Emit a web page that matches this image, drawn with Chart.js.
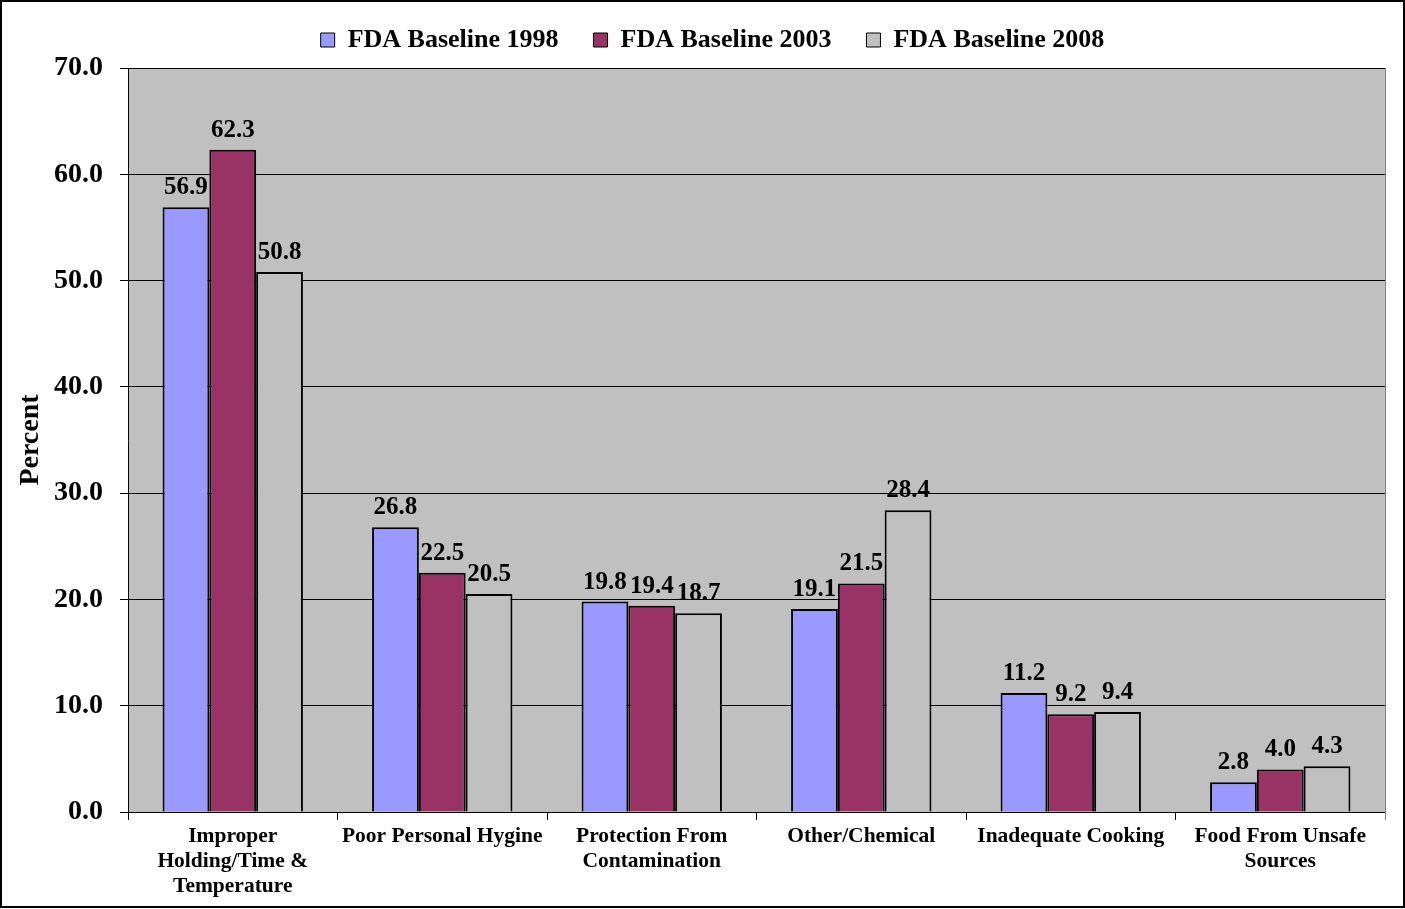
<!DOCTYPE html>
<html>
<head>
<meta charset="utf-8">
<script src="https://cdn.jsdelivr.net/npm/chart.js@4/dist/chart.umd.min.js"></script>
<style>
  html, body { margin: 0; padding: 0; background: #fff; }
  #wrap { position: relative; width: 1405px; height: 909px; }
</style>
</head>
<body>
<div id="wrap"><canvas id="chart"></canvas></div>
<script>
const categories = [
    ['Improper', 'Holding/Time &', 'Temperature'],
    ['Poor Personal Hygine'],
    ['Protection From', 'Contamination'],
    ['Other/Chemical'],
    ['Inadequate Cooking'],
    ['Food From Unsafe', 'Sources']
];
const seriesNames = ['FDA Baseline 1998', 'FDA Baseline 2003', 'FDA Baseline 2008'];
const baseline1998 = [56.9, 26.8, 19.8, 19.1, 11.2, 2.8];
const baseline2003 = [62.3, 22.5, 19.4, 21.5, 9.2, 4.0];
const baseline2008 = [50.8, 20.5, 18.7, 28.4, 9.4, 4.3];
const seriesColors = ['#9999FF', '#993366', '#C0C0C0'];

const FONT = "'Liberation Serif', 'Times New Roman', serif";

// ajuste la hauteur et la position de la légende
const legendShift = {
    id: 'legendShift',
    beforeInit(chart) {
        const legend = chart.legend;
        const fit = legend.fit;
        const draw = legend.draw;
        legend.fit = function() {
            fit.bind(legend)();
            this.height -= 3;
        };
        legend.draw = function() {
            const ctx = chart.ctx;
            ctx.save();
            ctx.translate(20, -8);
            draw.bind(legend)();
            ctx.restore();
        };
    }
};

// fond gris de la zone de tracé + cadre
const plotBackground = {
    id: 'plotBackground',
    beforeDraw(chart) {
        const { ctx, chartArea: a } = chart;
        ctx.save();
        ctx.fillStyle = '#C0C0C0';
        ctx.fillRect(a.left, a.top, a.right - a.left, a.bottom - a.top);
        ctx.restore();
    },
    afterDraw(chart) {
        const { ctx, chartArea: a, width, height } = chart;
        ctx.save();
        ctx.strokeStyle = '#808080';
        ctx.lineWidth = 1;
        ctx.beginPath();
        ctx.moveTo(Math.round(a.right) + 0.5, a.top);
        ctx.lineTo(Math.round(a.right) + 0.5, a.bottom + 8);
        ctx.stroke();
        ctx.strokeStyle = '#000';
        ctx.lineWidth = 2;
        ctx.strokeRect(1, 1, width - 2, height - 3);
        ctx.restore();
    }
};

// valeurs au-dessus des barres
const valueLabels = {
    id: 'valueLabels',
    afterDatasetsDraw(chart) {
        const { ctx } = chart;
        ctx.save();
        ctx.font = 'bold 25px ' + FONT;
        ctx.fillStyle = '#000';
        ctx.textAlign = 'center';
        ctx.textBaseline = 'alphabetic';
        chart.data.datasets.forEach((ds, i) => {
            chart.getDatasetMeta(i).data.forEach((bar, j) => {
                ctx.fillText(ds.data[j].toFixed(1), bar.x, bar.y - 13);
            });
        });
        ctx.restore();
    }
};

new Chart(document.getElementById('chart'), {
    type: 'bar',
    data: {
        labels: categories,
        datasets: [baseline1998, baseline2003, baseline2008].map((d, i) => ({
            label: seriesNames[i],
            data: d,
            backgroundColor: seriesColors[i],
            borderColor: '#000',
            borderWidth: 2,
            borderSkipped: 'bottom',
            categoryPercentage: 0.67,
            barPercentage: 1.0
        }))
    },
    options: {
        responsive: true,
        maintainAspectRatio: false,
        animation: false,
        layout: { padding: { left: 0, right: 20, top: 0, bottom: 0 } },
        plugins: {
            legend: {
                position: 'top',
                labels: {
                    color: '#000',
                    font: { family: FONT, size: 26, weight: 'bold' },
                    boxWidth: 14,
                    boxHeight: 14,
                    padding: 35,
                    generateLabels(chart) {
                        return chart.data.datasets.map((ds, i) => ({
                            text: ds.label,
                            fillStyle: ds.backgroundColor,
                            strokeStyle: '#000',
                            lineWidth: 1,
                            datasetIndex: i
                        }));
                    }
                }
            },
            tooltip: { enabled: false }
        },
        scales: {
            x: {
                offset: true,
                grid: { offset: true, drawOnChartArea: false, drawTicks: true, tickLength: 8, color: '#000' },
                border: { color: '#000', width: 1 },
                ticks: {
                    color: '#000',
                    font: { family: FONT, size: 21.5, weight: 'bold', lineHeight: 1.16 },
                    maxRotation: 0,
                    autoSkip: false,
                    padding: 4
                },
                afterFit(scale) { scale.height = 97; }
            },
            y: {
                min: 0,
                max: 70,
                ticks: {
                    stepSize: 10,
                    color: '#000',
                    font: { family: FONT, size: 28, weight: 'bold' },
                    padding: 17,
                    callback: v => v.toFixed(1)
                },
                grid: { color: '#000', lineWidth: 1, tickLength: 8 },
                border: { color: '#000', width: 1 },
                title: {
                    display: true,
                    text: 'Percent',
                    color: '#000',
                    font: { family: FONT, size: 28, weight: 'bold' },
                    padding: { top: 14, bottom: 0 }
                },
                afterFit(scale) { scale.width = 128; }
            }
        }
    },
    plugins: [legendShift, plotBackground, valueLabels]
});
</script>
</body>
</html>
